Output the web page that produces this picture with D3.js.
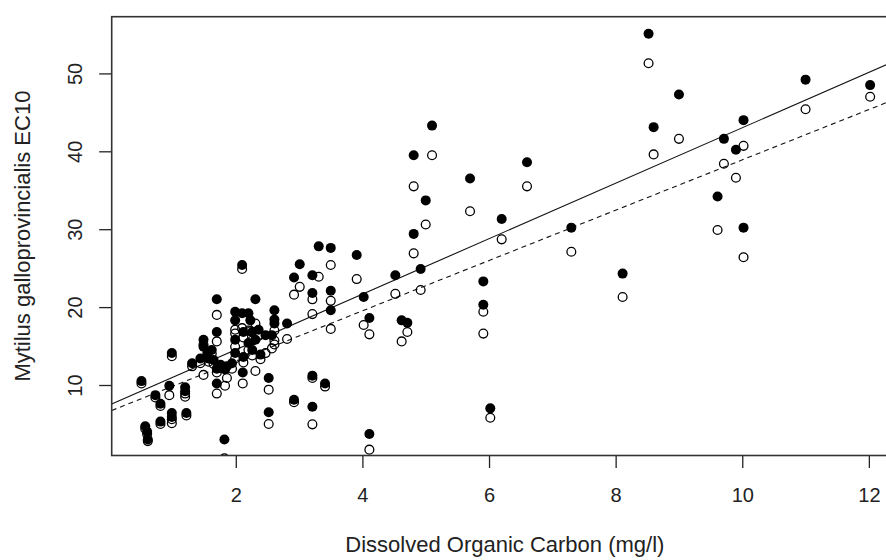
<!DOCTYPE html>
<html>
<head>
<meta charset="utf-8">
<script src="https://cdn.jsdelivr.net/npm/d3@7"></script>
<style>
  body { margin: 0; background: #fff; }
  svg { display: block; font-family: "Liberation Sans", Arial, sans-serif; }
</style>
</head>
<body>
<div id="chart"></div>
<script>
// Dissolved organic carbon (mg/l), one entry per sample
const doc = [
  0.51, 0.57, 0.60, 0.61, 0.73, 0.81, 0.81, 0.95, 0.99, 0.99, 0.99, 1.20, 1.20, 1.22,
  1.31, 1.44, 1.49, 1.49, 1.55, 1.57, 1.62, 1.65, 1.70, 1.70, 1.70, 1.70, 1.76, 1.82,
  1.83, 1.86, 1.94, 1.99, 1.99, 1.99, 1.99, 2.10, 2.10, 2.11, 2.12, 2.12, 2.20, 2.20,
  2.23, 2.26, 2.26, 2.31, 2.31, 2.36, 2.39, 2.47, 2.52, 2.52, 2.57, 2.61, 2.61, 2.61,
  2.81, 2.92, 2.92, 3.01, 3.21, 3.21, 3.21, 3.21, 3.31, 3.41, 3.50, 3.50, 3.50, 3.91,
  4.02, 4.11, 4.11, 4.52, 4.62, 4.71, 4.81, 4.81, 4.92, 5.00, 5.10, 5.70, 5.91, 5.91,
  6.02, 6.20, 6.60, 7.30, 8.11, 8.52, 8.60, 9.00, 9.61, 9.71, 9.90, 10.02, 10.02,
  11.00, 12.02
]

// EC10, filled symbols
const ec10Filled = [
  10.5, 4.7, 4.0, 3.0, 8.7, 7.6, 5.3, 9.9, 14.1, 6.4, 5.9, 9.7, 9.2, 6.4,
  12.8, 13.4, 15.8, 14.9, 14.1, 13.4, 14.5, 13.2, 21.0, 16.8, 12.1, 10.2, 12.6, 3.0,
  12.0, 12.4, 12.8, 19.4, 18.3, 15.8, 14.1, 19.2, 25.4, 11.6, 16.8, 13.6, 19.2, 15.4,
  18.3, 16.8, 14.5, 21.0, 15.8, 17.1, 13.9, 16.4, 10.9, 6.5, 16.4, 19.6, 18.4, 17.9,
  17.9, 23.8, 8.1, 25.5, 24.1, 21.8, 11.2, 7.2, 27.8, 10.2, 27.6, 22.1, 19.6, 26.7,
  21.3, 18.6, 3.7, 24.1, 18.3, 18.0, 39.5, 29.4, 24.9, 33.7, 43.3, 36.5, 23.3, 20.3,
  7.0, 31.3, 38.6, 30.2, 24.3, 55.1, 43.1, 47.3, 34.2, 41.6, 40.2, 44.0, 30.2,
  49.2, 48.5
]

// EC10, open symbols
const ec10Open = [
  10.2, 4.4, 3.7, 2.8, 8.4, 7.3, 5.0, 8.7, 13.7, 5.6, 5.1, 8.5, 8.9, 6.1,
  12.4, 12.8, 15.2, 11.3, 13.6, 13.0, 14.0, 12.7, 19.0, 15.6, 11.6, 8.9, 12.2, 0.6,
  9.9, 10.9, 12.1, 17.1, 16.6, 14.9, 13.4, 17.3, 24.9, 10.2, 16.1, 12.9, 17.0, 14.5,
  16.9, 15.7, 13.8, 17.9, 11.8, 16.3, 13.3, 14.1, 9.4, 5.0, 14.7, 17.0, 15.7, 15.2,
  15.9, 21.6, 7.8, 22.6, 21.0, 19.1, 10.9, 4.95, 23.9, 9.8, 25.4, 20.8, 17.2, 23.6,
  17.7, 16.5, 1.7, 21.7, 15.6, 16.8, 35.5, 26.9, 22.2, 30.6, 39.5, 32.3, 16.6, 19.4,
  5.8, 28.7, 35.5, 27.1, 21.3, 51.3, 39.6, 41.6, 29.9, 38.4, 36.6, 40.7, 26.4,
  45.4, 47.0
]

// fitted lines: [solid, dashed]
const fitIntercept = [7.42, 6.6]
const fitSlope = [3.56, 3.23]
const fitDash = [null, "5,4"]

const xTicks = [2, 4, 6, 8, 10, 12]
const yTicks = [10, 20, 30, 40, 50]

const xTitle = "Dissolved Organic Carbon (mg/l)"
const yTitle = "Mytilus galloprovincialis EC10"

const width = 886, height = 560
const plot = { left: 111.7, right: 898, top: 16.7, bottom: 455.5 }
const ink = "#222"

const x = d3.scaleLinear().domain([0.04, 12.46]).range([plot.left, plot.right])
const y = d3.scaleLinear().domain([0.95, 57.28]).range([plot.bottom, plot.top])

const svg = d3.select("#chart")
  .append("svg")
  .attr("width", width)
  .attr("height", height)

svg.append("rect").attr("width", width).attr("height", height).attr("fill", "#fff")

svg.append("clipPath").attr("id", "plotclip")
  .append("rect")
  .attr("x", plot.left).attr("y", plot.top)
  .attr("width", plot.right - plot.left).attr("height", plot.bottom - plot.top)

const inner = svg.append("g").attr("clip-path", "url(#plotclip)")

// regression lines
inner.append("g")
  .selectAll("line")
  .data(fitIntercept)
  .join("line")
  .attr("x1", x(x.domain()[0]))
  .attr("x2", x(x.domain()[1]))
  .attr("y1", (d, i) => y(d + fitSlope[i] * x.domain()[0]))
  .attr("y2", (d, i) => y(d + fitSlope[i] * x.domain()[1]))
  .attr("stroke", "#111")
  .attr("stroke-width", 1.1)
  .attr("stroke-dasharray", (d, i) => fitDash[i])

// open symbols
inner.append("g")
  .selectAll("circle")
  .data(doc)
  .join("circle")
  .attr("cx", d => x(d))
  .attr("cy", (d, i) => y(ec10Open[i]))
  .attr("r", 4.4)
  .attr("fill", "none")
  .attr("stroke", "#000")
  .attr("stroke-width", 1.3)

// filled symbols
inner.append("g")
  .selectAll("circle")
  .data(doc)
  .join("circle")
  .attr("cx", d => x(d))
  .attr("cy", (d, i) => y(ec10Filled[i]))
  .attr("r", 5)
  .attr("fill", "#000")

// axes
svg.append("g")
  .attr("transform", `translate(0,${plot.bottom})`)
  .call(d3.axisBottom(x).tickValues(xTicks).tickSize(12.5).tickSizeOuter(0))
  .call(g => g.select(".domain").remove())
  .call(g => g.selectAll(".tick line").attr("stroke", ink).attr("stroke-width", 1.3))
  .call(g => g.selectAll("text")
    .attr("y", 32)
    .attr("dy", "0.71em")
    .attr("fill", ink)
    .attr("font-size", 20)
    .attr("font-family", "Liberation Sans, Arial, sans-serif"))

svg.append("g")
  .attr("transform", `translate(${plot.left},0)`)
  .call(d3.axisLeft(y).tickValues(yTicks).tickSize(12.5).tickSizeOuter(0))
  .call(g => g.select(".domain").remove())
  .call(g => g.selectAll(".tick line").attr("stroke", ink).attr("stroke-width", 1.3))
  .call(g => g.selectAll("text")
    .attr("x", 0)
    .attr("y", -30)
    .attr("dy", 0)
    .attr("transform", "rotate(-90)")
    .attr("text-anchor", "middle")
    .attr("fill", ink)
    .attr("font-size", 20)
    .attr("font-family", "Liberation Sans, Arial, sans-serif"))

// plot frame
svg.append("rect")
  .attr("x", plot.left)
  .attr("y", plot.top)
  .attr("width", plot.right - plot.left)
  .attr("height", plot.bottom - plot.top)
  .attr("fill", "none")
  .attr("stroke", "#333")
  .attr("stroke-width", 1.6)

// axis titles
svg.append("text")
  .attr("x", (plot.left + plot.right) / 2)
  .attr("y", 552)
  .attr("text-anchor", "middle")
  .attr("font-size", 22)
  .attr("fill", ink)
  .text(xTitle)

svg.append("text")
  .attr("transform", `translate(30,${(plot.top + plot.bottom) / 2}) rotate(-90)`)
  .attr("text-anchor", "middle")
  .attr("font-size", 22)
  .attr("fill", ink)
  .text(yTitle)
</script>
</body>
</html>
